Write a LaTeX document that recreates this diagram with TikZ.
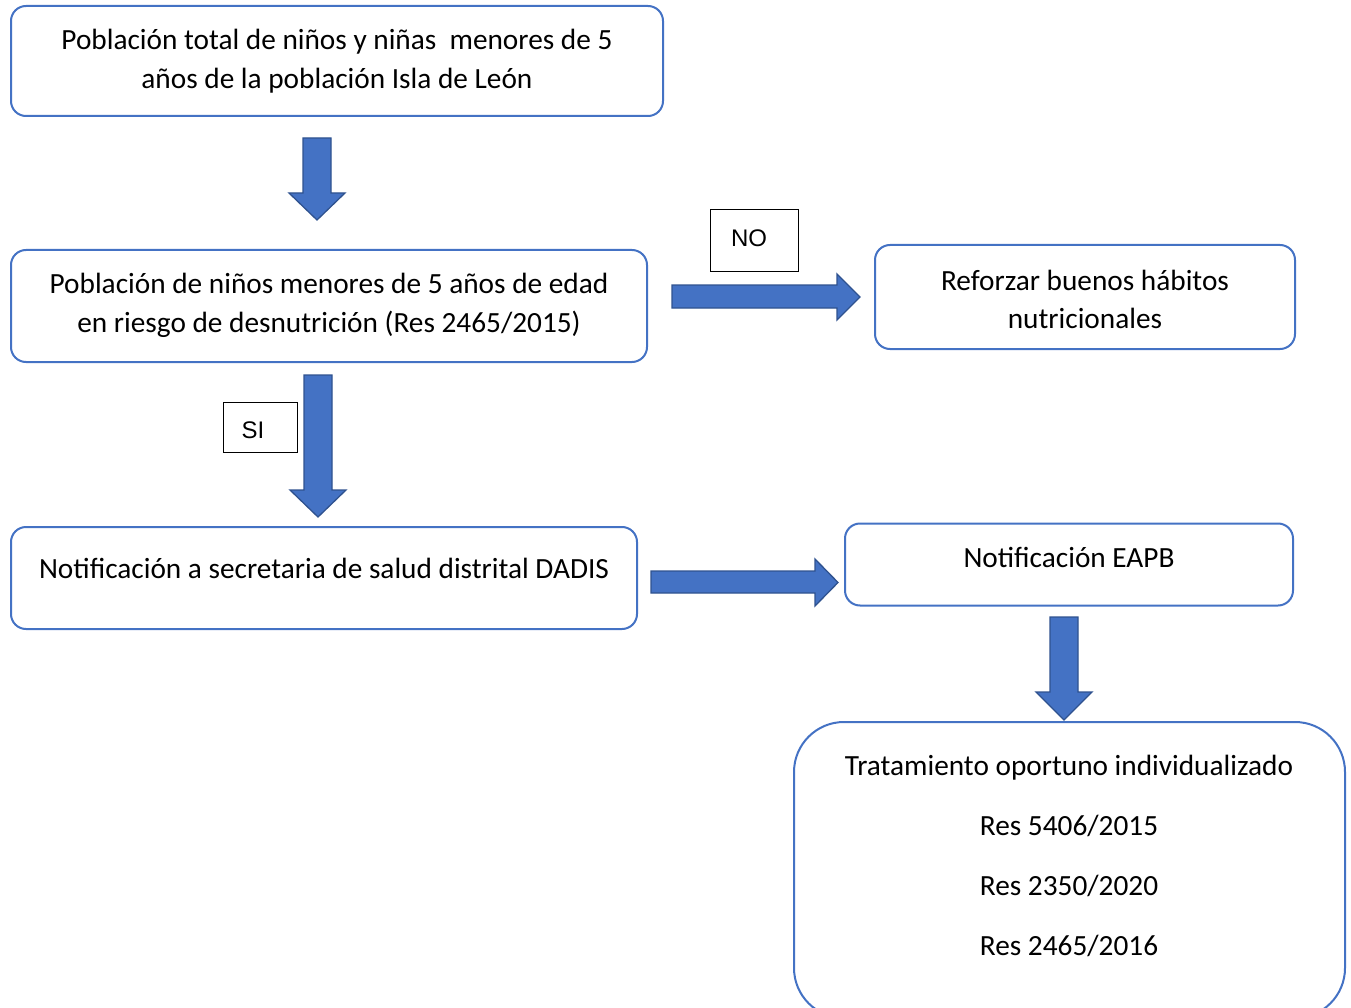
\documentclass[tikz,border=0pt]{standalone}
\usepackage{fontspec}
\setmainfont{Carlito}
\newfontfamily\arialfont{Liberation Sans}
\definecolor{boxblue}{HTML}{4472C4}
\definecolor{arrowfill}{HTML}{4472C4}
\definecolor{arrowline}{HTML}{2F528F}
\begin{document}
\begin{tikzpicture}[x=1pt,y=-1pt,
  box/.style={draw=boxblue, line width=2pt, rounded corners=15pt, fill=white, inner sep=0pt},
  txt/.style={font=\fontsize{29.3}{39}\selectfont, align=center, inner sep=0pt},
  lbl/.style={draw=black, line width=0.9pt, fill=white, inner sep=0pt},
  lbltxt/.style={inner sep=0pt, font=\arialfont\fontsize{24}{28}\selectfont},
  blockarrow/.style={fill=arrowfill, draw=arrowline, line width=1.3pt, line join=miter}
]
\useasboundingbox (0,0) rectangle (1351,1008);
\clip (0,0) rectangle (1351,1008);

% boxes
\node[box, minimum width=652pt, minimum height=110pt] (b1) at (337,61) {};
\node[txt] (b1t) at (337,61) {Población total de niños y niñas~ menores de 5\\años de la población Isla de León};

\node[box, minimum width=636pt, minimum height=112pt] (b2) at (329,306) {};
\node[txt] (b2t) at (329,305) {Población de niños menores de 5 años de edad\\en riesgo de desnutrición (Res 2465/2015)};

\node[box, minimum width=420pt, minimum height=104pt] (b3) at (1085,297) {};
\node[txt, font=\fontsize{29.3}{38}\selectfont] (b3t) at (1085,299) {Reforzar buenos hábitos\\nutricionales};

\node[box, minimum width=626pt, minimum height=102pt] (b4) at (324,578) {};
\node[txt] (b4t) at (324,568) {Notificación a secretaria de salud distrital DADIS};

\node[box, minimum width=448pt, minimum height=82pt] (b5) at (1069,564.5) {};
\node[txt] (b5t) at (1069,557) {Notificación EAPB};

\node[box, rounded corners=50pt, minimum width=551pt, minimum height=296pt] (b6) at (1069.5,870) {};
\node[txt, font=\fontsize{29.3}{60}\selectfont] (b6t) at (1069,856) {Tratamiento oportuno individualizado\\Res 5406/2015\\Res 2350/2020\\Res 2465/2016};

% labels
\node[lbl, minimum width=88pt, minimum height=62pt] (no) at (754,240) {};
\node[lbltxt] (not) at (749,238) {NO};
\node[lbl, minimum width=74pt, minimum height=50pt] (si) at (260,427) {};
\node[lbltxt] (sit) at (253,430) {SI};

% block arrows
% b1 -> b2 (down)
\draw[blockarrow] (303,138) -- (331,138) -- (331,193) -- (345,193) -- (317,220) -- (289,193) -- (303,193) -- cycle;
% b2 -> b4 (down, SI)
\draw[blockarrow] (304,375) -- (332,375) -- (332,490) -- (346,490) -- (318,517) -- (290,490) -- (304,490) -- cycle;
% b2 -> b3 (right, NO)
\draw[blockarrow] (672,285) -- (837,285) -- (837,274) -- (860,297) -- (837,320) -- (837,308) -- (672,308) -- cycle;
% b4 -> b5 (right)
\draw[blockarrow] (651,571) -- (815,571) -- (815,559) -- (838,582.5) -- (815,606) -- (815,593) -- (651,593) -- cycle;
% b5 -> b6 (down)
\draw[blockarrow] (1050,617) -- (1078,617) -- (1078,692) -- (1092,692) -- (1064,720) -- (1036,692) -- (1050,692) -- cycle;
\end{tikzpicture}
\end{document}
